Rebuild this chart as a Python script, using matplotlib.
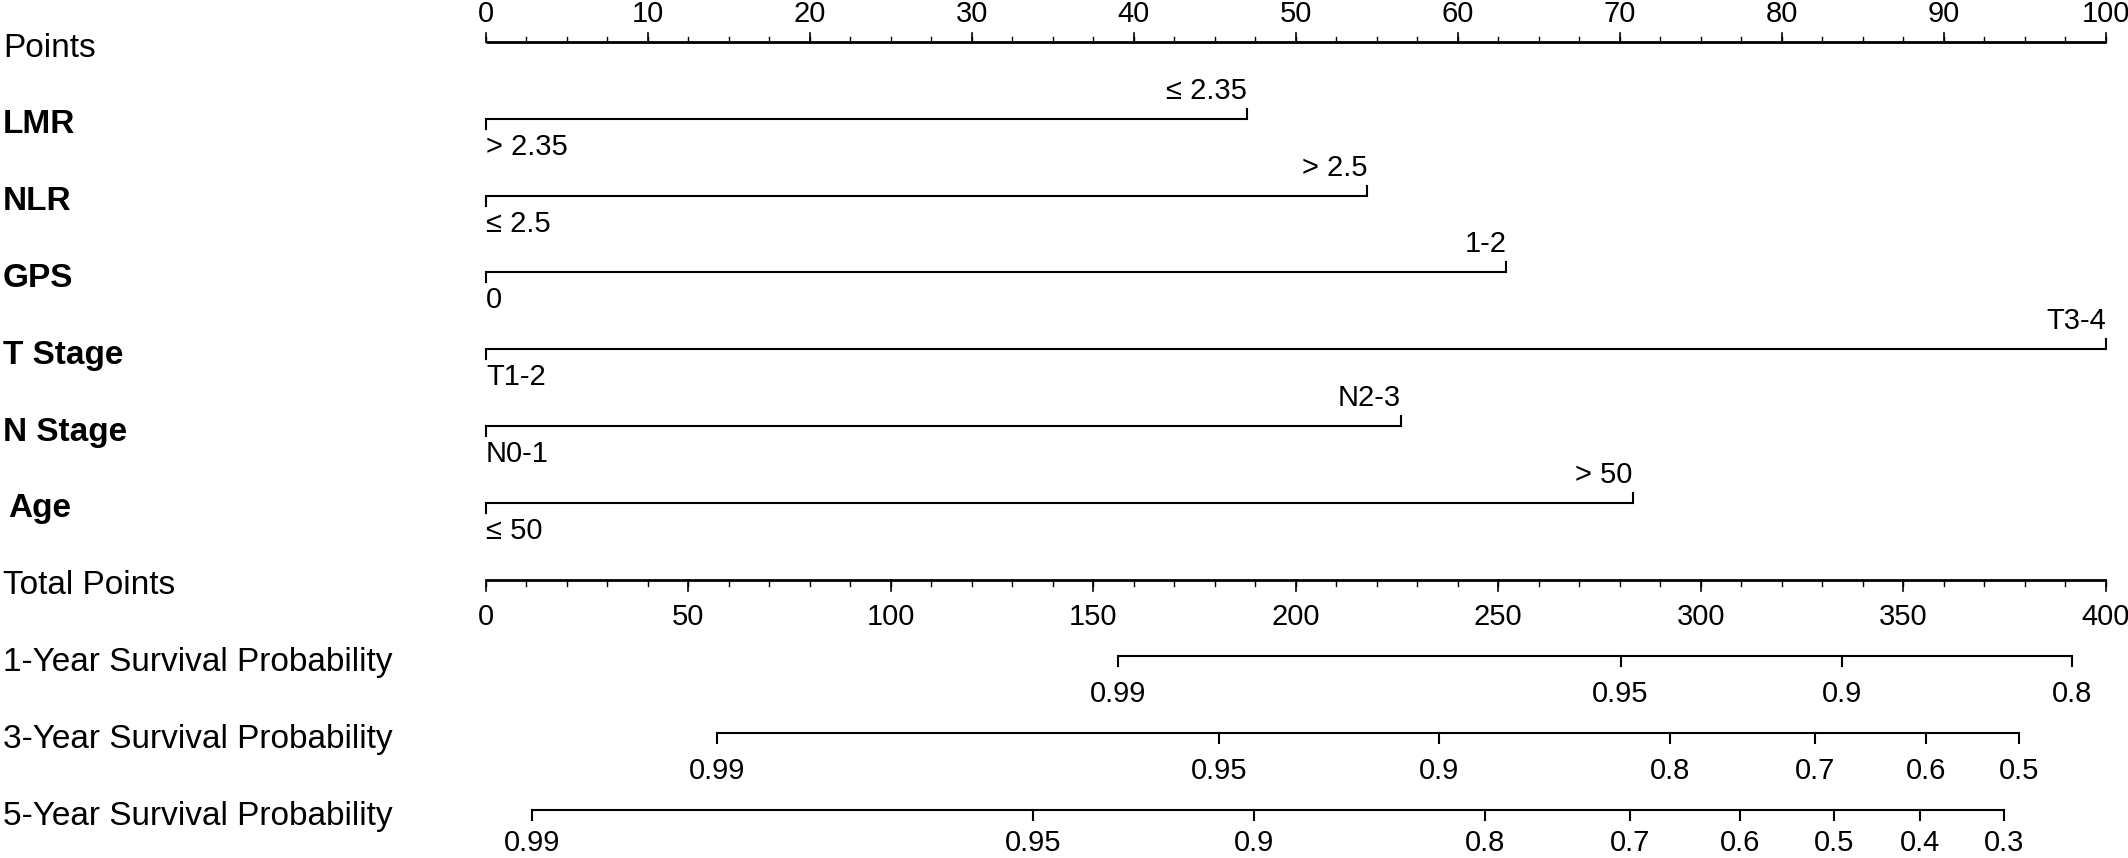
import matplotlib.pyplot as plt
import numpy as np

plt.rcParams['font.family'] = ['Liberation Sans', 'DejaVu Sans']

# ── Data ──────────────────────────────────────────────────────────────────────
point_ticks = np.arange(0, 101, 10)
point_minor = np.arange(0, 100.1, 2.5)
total_ticks = np.arange(0, 401, 50)
total_minor = np.arange(0, 401, 10)

var_names = ["LMR", "NLR", "GPS", "T Stage", "N Stage", "Age"]
low_labels = ["> 2.35", "\u2264 2.5", "0", "T1-2", "N0-1", "\u2264 50"]
high_labels = ["\u2264 2.35", "> 2.5", "1-2", "T3-4", "N2-3", "> 50"]
high_points = [47.0, 54.4, 63.0, 100.0, 56.5, 70.8]

surv_names = ["1-Year Survival Probability",
              "3-Year Survival Probability",
              "5-Year Survival Probability"]
surv1_labels = ["0.99", "0.95", "0.9", "0.8"]
surv1_total = [156.2, 280.2, 334.8, 391.8]
surv3_labels = ["0.99", "0.95", "0.9", "0.8", "0.7", "0.6", "0.5"]
surv3_total = [57.1, 181.0, 235.4, 292.4, 328.3, 355.6, 378.7]
surv5_labels = ["0.99", "0.95", "0.9", "0.8", "0.7", "0.6", "0.5", "0.4", "0.3"]
surv5_total = [11.4, 135.1, 189.7, 246.8, 282.5, 309.8, 332.9, 354.1, 374.8]

# ── Layout ────────────────────────────────────────────────────────────────────
fig = plt.figure(figsize=(21.28, 8.58), dpi=100)
ax = fig.add_axes([0, 0, 1, 1])
ax.set_xlim(-30.0, 101.38)
ax.set_ylim(10.625, -0.547)
ax.axis("off")

px = 1 / 76.7          # one pixel in row units
lab_tr = ax.get_yaxis_transform()
label_fs = 24
tick_fs = 21
lw_main = 2.0
lw = 1.5


def row_label(y, text, weight="normal", dx=0.0014):
    ax.text(dx, y + 6 * px, text, transform=lab_tr, ha="left", va="center",
            fontsize=label_fs, fontweight=weight)


# ── Points axis ───────────────────────────────────────────────────────────────
y = 0
row_label(y, "Points")
ax.plot([0, 100], [y, y], color="black", lw=lw_main, solid_capstyle="butt")
for t in point_minor:
    ax.plot([t, t], [y, y - 5 * px], color="black", lw=1)
for t in point_ticks:
    ax.plot([t, t], [y, y - 9 * px], color="black", lw=1.2)
    ax.text(t, y - 28 * px, str(t), ha="center", va="center", fontsize=tick_fs)

# ── Variables ─────────────────────────────────────────────────────────────────
for i, name in enumerate(var_names):
    y = i + 1
    hp = high_points[i]
    row_label(y, name, weight="bold", dx=0.004 if name == "Age" else 0.0014)
    ax.plot([0, hp], [y, y], color="black", lw=lw, solid_capstyle="butt")
    ax.plot([0, 0], [y, y + 10 * px], color="black", lw=lw)
    ax.plot([hp, hp], [y, y - 10 * px], color="black", lw=lw)
    ax.text(hp, y - 28 * px, high_labels[i], ha="right", va="center",
            fontsize=tick_fs)
    ax.text(0, y + 28 * px, low_labels[i], ha="left", va="center",
            fontsize=tick_fs)

# ── Total points axis ─────────────────────────────────────────────────────────
y = 7
row_label(y, "Total Points")
ax.plot([0, 100], [y, y], color="black", lw=lw_main, solid_capstyle="butt")
for t in total_minor:
    ax.plot([t / 4, t / 4], [y, y + 6 * px], color="black", lw=1)
for t in total_ticks:
    ax.plot([t / 4, t / 4], [y, y + 11 * px], color="black", lw=1.2)
    ax.text(t / 4, y + 37 * px, str(t), ha="center", va="center",
            fontsize=tick_fs)

# ── Survival probability axes ─────────────────────────────────────────────────
surv_sets = [(surv1_labels, surv1_total),
             (surv3_labels, surv3_total),
             (surv5_labels, surv5_total)]
label_offsets = [38, 38, 33]
for k, (labels, totals) in enumerate(surv_sets):
    y = 8 + k
    row_label(y, surv_names[k])
    xs = np.array(totals) / 4
    ax.plot([xs.min(), xs.max()], [y, y], color="black", lw=lw,
            solid_capstyle="butt")
    for xv, lab in zip(xs, labels):
        ax.plot([xv, xv], [y, y + 10 * px], color="black", lw=lw)
        ax.text(xv, y + label_offsets[k] * px, lab, ha="center", va="center",
                fontsize=tick_fs)

plt.savefig("out.png", dpi=100)
